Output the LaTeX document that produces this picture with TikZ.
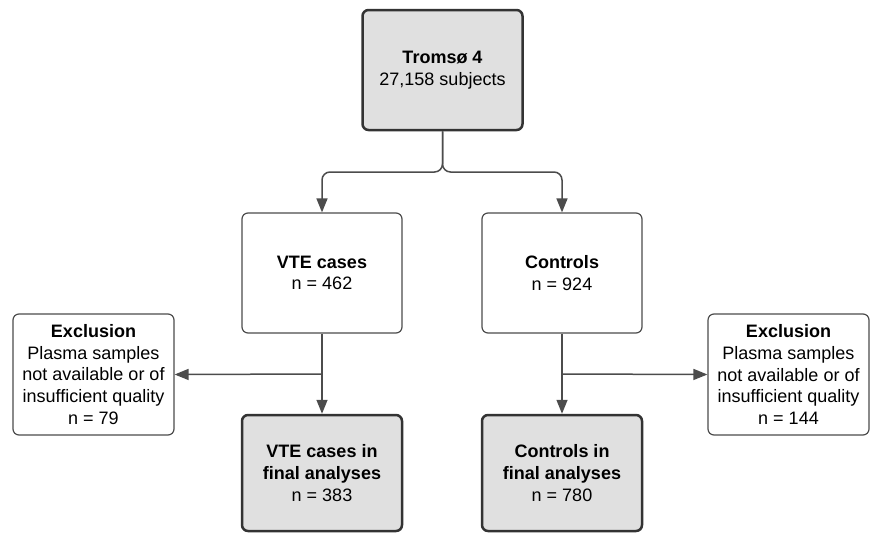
\documentclass[tikz,border=0pt]{standalone}
\usepackage{fontspec}
\setmainfont{Liberation Sans}
\usetikzlibrary{arrows.meta}
\definecolor{lg}{rgb}{.88,.88,.88}
\definecolor{dg}{rgb}{.2,.2,.2}
\definecolor{mg}{rgb}{.3,.3,.3}

\begin{document}
\begin{tikzpicture}
  [x=1pt, y=-1pt, font=\fontsize{18}{21.7}\selectfont,
   box/.style={draw=mg, line width=1.2pt, rounded corners=6pt, fill=white,
     align=center, inner sep=0pt, minimum width=160pt, minimum height=120pt},
   grey/.style={box, draw=dg, line width=2.5pt, fill=lg},
   arr/.style={draw=mg, line width=1.5pt, -{Triangle[length=14pt,width=11pt]}}]
  \useasboundingbox (0,0) rectangle (872,533);
    \node[grey] (top) at (442.5,70) {\textbf{Tromsø 4}\\27,158 subjects};
    \foreach \nm/\x/\lbl/\cnt in {vte/322/VTE cases/462,ctl/562/Controls/924}{
      \node[box] (\nm) at (\x,273) {\textbf{\lbl}\\n = \cnt}; }
    \foreach \nm/\x/\lbl/\cnt in {vtef/322/VTE cases in/383,ctlf/562/Controls in/780}{
      \node[grey, minimum height=116pt] (\nm) at (\x,473)
      {\textbf{\lbl}\\\textbf{final analyses}\\n = \cnt}; }
    \foreach \nm/\x/\cnt in {lexc/93.5/79,rexc/788.5/144}{
      \node[box, minimum width=161pt, minimum height=121pt] (\nm) at (\x,374.5)
      {\textbf{Exclusion}\\Plasma samples\\not available or of\\insufficient quality\\n = \cnt}; }
    \coordinate (split) at (442.5,172);
    \coordinate (lbr) at (322,374);
    \coordinate (rbr) at (562,374);
    \draw[arr, rounded corners=8pt] (top.south) -- (split) -| (vte.north);
    \draw[arr, rounded corners=8pt] (top.south) -- (split) -| (ctl.north);
    \foreach \from/\to in {vte/vtef,ctl/ctlf}{
      \draw[arr] (\from) -- (\to);}
    \draw[arr] (lbr) -- (lexc.east);
    \draw[arr] (rbr) -- (rexc.west);
  \end{tikzpicture}
\end{document}
